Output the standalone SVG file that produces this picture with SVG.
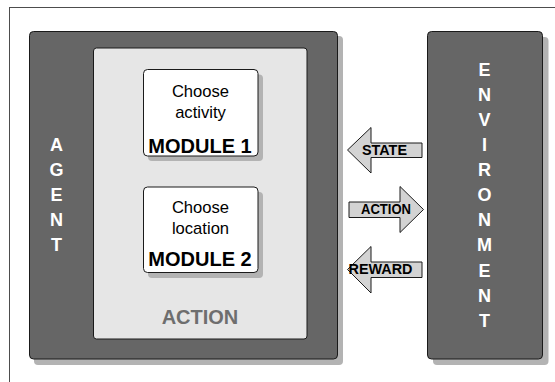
<svg xmlns="http://www.w3.org/2000/svg" width="555" height="382" viewBox="0 0 555 382">
  <style>
    .frame { fill: #ffffff; stroke: #4d4d4d; stroke-width: 1; }
    .shadow { fill: #b3b3b3; }
    .dark { fill: #666666; stroke: #1a1a1a; stroke-width: 1; }
    .panel { fill: #e6e6e6; stroke: #1a1a1a; stroke-width: 1; }
    .module { fill: #ffffff; stroke: #1a1a1a; stroke-width: 1; }
    .arrow { fill: #d3d3d3; stroke: #1a1a1a; stroke-width: 1; stroke-linejoin: miter; }
    .vert { font-family: "Liberation Sans", Arial, sans-serif; font-weight: bold; font-size: 18px; fill: #ffffff; text-anchor: middle; }
    .task { font-family: "Liberation Sans", Arial, sans-serif; font-size: 16.6px; fill: #000000; text-anchor: middle; }
    .modname { font-family: "Liberation Sans", Arial, sans-serif; font-weight: bold; font-size: 20px; fill: #000000; text-anchor: middle; }
    .tag { font-family: "Liberation Sans", Arial, sans-serif; font-weight: bold; font-size: 14px; fill: #000000; text-anchor: middle; }
    .panelname { font-family: "Liberation Sans", Arial, sans-serif; font-weight: bold; font-size: 20px; fill: #6e6e6e; text-anchor: middle; }
  </style>

  <rect x="0" y="0" width="555" height="382" fill="#ffffff"/>
  <!-- outer frame (right and bottom sides fall outside the canvas) -->
  <rect class="frame" x="9.5" y="7.5" width="600" height="420"/>

  <!-- agent -->
  <g id="agent">
    <rect class="shadow" x="34" y="36" width="309" height="329" rx="4"/>
    <rect class="dark" x="29.5" y="31.5" width="308" height="327.5" rx="4"/>
    <text class="vert" x="56.5" y="150.5">A</text>
    <text class="vert" x="56.5" y="175.5">G</text>
    <text class="vert" x="56.5" y="200.5">E</text>
    <text class="vert" x="56.5" y="225.5">N</text>
    <text class="vert" x="56.5" y="250.5">T</text>
  </g>

  <!-- action panel inside the agent -->
  <g id="action-panel">
    <rect class="panel" x="93.5" y="48" width="213.5" height="291" rx="3"/>
    <text class="panelname" x="200" y="324.3">ACTION</text>
  </g>

  <g id="module1">
    <rect class="shadow" x="148" y="74.5" width="115" height="86.5" rx="4"/>
    <rect class="module" x="143.5" y="69.5" width="114.5" height="86.5" rx="4"/>
    <text class="task" x="200.5" y="97">Choose</text>
    <text class="task" x="200.5" y="117.5">activity</text>
    <text class="modname" x="200" y="152.7">MODULE 1</text>
  </g>

  <g id="module2">
    <rect class="shadow" x="148" y="192" width="115" height="86" rx="4"/>
    <rect class="module" x="143.5" y="187" width="114.5" height="85.5" rx="4"/>
    <text class="task" x="200.5" y="213.3">Choose</text>
    <text class="task" x="200.5" y="234.3">location</text>
    <text class="modname" x="200" y="266">MODULE 2</text>
  </g>

  <!-- environment -->
  <g id="environment">
    <rect class="shadow" x="433" y="37" width="115.5" height="328" rx="4"/>
    <rect class="dark" x="427.5" y="31.5" width="115" height="327.5" rx="4"/>
    <text class="vert" x="484.5" y="75.5">E</text>
    <text class="vert" x="484.5" y="100.5">N</text>
    <text class="vert" x="484.5" y="125.5">V</text>
    <text class="vert" x="484.5" y="150.5">I</text>
    <text class="vert" x="484.5" y="175.5">R</text>
    <text class="vert" x="484.5" y="200.5">O</text>
    <text class="vert" x="484.5" y="225.5">N</text>
    <text class="vert" x="484.5" y="251">M</text>
    <text class="vert" x="484.5" y="276.5">E</text>
    <text class="vert" x="484.5" y="301.5">N</text>
    <text class="vert" x="484.5" y="326.5">T</text>
  </g>

  <!-- block arrows between agent and environment -->
  <g id="connectors">
    <g id="state">
      <polygon class="arrow" points="347.5,150 371,127.5 371,143 422,143 422,157.5 371,157.5 371,173"/>
      <text class="tag" x="384.5" y="155" textLength="45" lengthAdjust="spacingAndGlyphs">STATE</text>
    </g>
    <g id="action">
      <polygon class="arrow" points="423.5,209.5 400,186.5 400,202 349,202 349,217.5 400,217.5 400,232.5"/>
      <text class="tag" x="386" y="213.5" textLength="50" lengthAdjust="spacingAndGlyphs">ACTION</text>
    </g>
    <g id="reward">
      <polygon class="arrow" points="347.5,269.5 371,246.5 371,262 422,262 422,277.5 371,277.5 371,293"/>
      <text class="tag" x="380.5" y="273.5" textLength="64" lengthAdjust="spacingAndGlyphs">REWARD</text>
    </g>
  </g>
</svg>
